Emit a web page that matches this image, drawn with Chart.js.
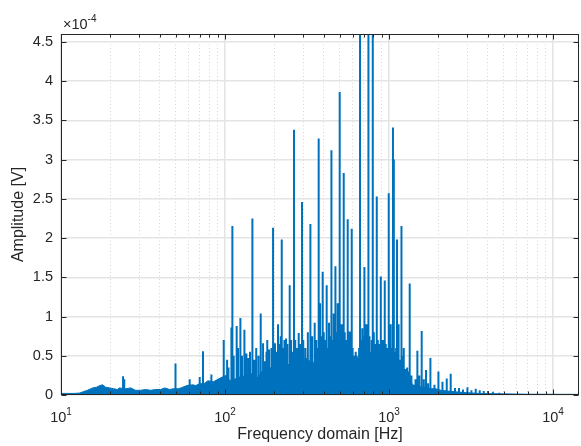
<!DOCTYPE html>
<html>
<head>
<meta charset="utf-8">
<script src="https://cdn.jsdelivr.net/npm/chart.js@4.4.1/dist/chart.umd.min.js"></script>
<style>
  html, body { margin: 0; padding: 0; background: #fff; }
</style>
</head>
<body>
<canvas id="chart" width="581" height="446"></canvas>
<script>
// amplitude spectrum, amplitudes in units of 1e-4 V (axis shows x10^-4)
const floorFreq = [10, 11, 12, 13, 13.6, 14.5, 15.6, 16.5, 17.2, 17.9, 18.7, 19.8, 20.9, 22.1, 22.6, 24.8, 26.6, 28.5,
  30.6, 32.8, 35.2, 37.8, 40.5, 42.9, 46, 48.6, 52.2, 55.3, 58.6, 63.6, 66.4, 69.1, 75.3, 78.6, 85.2, 90.3, 94.4,
  101.6, 107.4, 114, 120.6, 128, 136, 142, 152, 159, 167, 177, 190, 204, 216, 232, 241, 255, 275, 285, 307, 320,
  345, 366, 387, 409, 432, 458, 484, 510, 540, 565, 592, 614, 640, 684, 722, 765, 808, 854, 903, 955, 1010, 1067,
  1128, 1195, 1262, 1337, 1413, 1496, 1582, 1673, 1790, 1924, 2070, 2283, 2554, 2944, 3574, 4700, 7000, 14400];
const floorAmp = [0.02, 0.02, 0.02, 0.025, 0.04, 0.06, 0.09, 0.10, 0.12, 0.13, 0.10, 0.09, 0.08, 0.07, 0.09, 0.08, 0.09, 0.06,
  0.06, 0.07, 0.06, 0.07, 0.07, 0.09, 0.07, 0.08, 0.08, 0.10, 0.12, 0.13, 0.12, 0.14, 0.15, 0.18, 0.17, 0.20, 0.22,
  0.25, 0.18, 0.20, 0.22, 0.25, 0.20, 0.28, 0.25, 0.22, 0.30, 0.28, 0.35, 0.30, 0.38, 0.32, 0.38, 0.42, 0.38, 0.42, 0.42, 0.45,
  0.40, 0.50, 0.42, 0.55, 0.45, 0.50, 0.45, 0.50, 0.55, 0.45, 0.40, 0.35, 0.38, 0.50, 0.42, 0.55, 0.45, 0.50, 0.42, 0.50, 0.42, 0.45,
  0.38, 0.35, 0.25, 0.18, 0.12, 0.12, 0.10, 0.10, 0.08, 0.08, 0.06, 0.05, 0.04, 0.03, 0.02, 0.015, 0.01, 0.008];

const peakFreq = [
  23.9, 24.3, 49.9, 60.9, 70.1, 73.4, 82.6, 98.2, 103, 105,
  109.4, 110.9, 113, 117.8, 120, 124.1, 127, 131.3, 135, 138.9,
  142, 146.9, 151, 155, 160, 165.1, 170.6, 175.4, 179, 181,
  185.5, 191.9, 196.3, 201.8, 205, 210.5, 214, 218.6, 221.8, 226,
  230.3, 235.5, 240, 248, 253, 258, 263.4, 268, 272.4, 277,
  281.4, 288, 294.8, 300, 304.9, 309, 313.5, 320, 331.6, 340,
  352.2, 360, 366, 372.5, 380, 386, 394.1, 400, 405, 411,
  416.8, 423, 430.5, 438, 445.5, 452, 460, 471.2, 478, 486.6,
  493, 500.3, 508, 514.7, 522, 529.4, 537, 544.5, 552, 559.9,
  568, 575.9, 584, 592.4, 600, 610, 626.6, 636, 648, 657,
  665.7, 676, 687, 697, 708, 718, 728, 738, 749, 760,
  785, 796, 808, 819, 830, 842, 854, 866, 878, 891,
  904, 916, 930, 942, 955, 969, 982, 996, 1010, 1024,
  1040, 1057, 1070, 1090, 1105, 1119, 1135, 1150, 1170, 1191,
  1210, 1230, 1262, 1290, 1310, 1337, 1370, 1413, 1450, 1489,
  1530, 1582, 1630, 1681, 1730, 1788, 1892, 2001, 2118, 2249,
  2377, 2525, 2672, 2826, 3006, 3179, 3378, 3574, 3779, 4014,
  4300, 4700];
const peakAmp = [
  0.24, 0.20, 0.40, 0.20, 0.23, 0.556, 0.26, 0.70, 0.45, 0.35,
  0.86, 2.155, 0.50, 0.88, 0.60, 0.98, 0.50, 0.83, 0.53, 0.47,
  0.55, 2.25, 0.45, 0.60, 0.50, 1.04, 0.66, 0.43, 0.55, 0.70,
  0.58, 0.60, 2.13, 0.66, 0.55, 0.90, 0.65, 0.75, 1.98, 0.60,
  0.70, 0.72, 0.65, 1.40, 0.70, 0.55, 3.38, 0.70, 0.60, 0.60,
  0.79, 0.65, 2.46, 0.70, 0.47, 0.60, 0.47, 0.80, 2.18, 0.75,
  0.92, 0.70, 0.60, 3.27, 1.17, 0.75, 1.57, 0.80, 0.62, 0.70,
  1.40, 0.60, 0.92, 0.75, 3.12, 0.70, 1.04, 1.64, 0.80, 1.17,
  0.70, 3.86, 0.65, 0.90, 0.75, 2.83, 0.80, 0.70, 0.60, 2.24,
  0.70, 0.81, 0.65, 2.12, 0.60, 0.50, 0.55, 0.50, 0.47, 0.60,
  5.6, 0.70, 0.85, 0.75, 1.63, 0.70, 0.90, 0.80, 5.1, 0.75,
  0.70, 4.9, 0.80, 0.62, 0.65, 2.53, 0.70, 0.60, 0.65, 1.51,
  0.60, 0.70, 0.70, 1.46, 0.65, 0.50, 0.60, 2.57, 0.70, 0.90,
  0.60, 3.41, 3.0, 0.55, 0.60, 1.98, 0.50, 0.90, 0.45, 2.155,
  0.50, 0.60, 0.33, 0.35, 0.30, 1.42, 0.25, 0.13, 0.20, 0.565,
  0.25, 0.815, 0.20, 0.32, 0.15, 0.47, 0.13, 0.30, 0.17, 0.21,
  0.27, 0.09, 0.09, 0.07, 0.10, 0.06, 0.08, 0.06, 0.05, 0.05,
  0.04, 0.03];

const xTicks = [10, 20, 30, 40, 50, 60, 70, 80, 90, 100, 200, 300, 400, 500, 600, 700, 800, 900,
  1000, 2000, 3000, 4000, 5000, 6000, 7000, 8000, 9000, 10000];
const xMajor = [10, 100, 1000, 10000];
const yTicks = [0, 0.5, 1, 1.5, 2, 2.5, 3, 3.5, 4, 4.5];

const lineColor = "#0072BD";
const axisColor = "#262626";
const fontFamily = "'Liberation Sans', Arial, sans-serif";
const isMajor = v => xMajor.includes(v);

const floorData = floorFreq.map((f, i) => ({ x: f, y: floorAmp[i] }));
const stemData = peakFreq.flatMap((f, i) => [{ x: f, y: 0 }, { x: f, y: peakAmp[i] }, { x: f, y: 0 }]);

// box, inward ticks and power-of-ten labels like the original figure
const axesBox = {
  id: "axesBox",
  afterDraw(chart) {
    const { ctx, chartArea: a, scales: { x, y } } = chart;
    ctx.save();
    ctx.strokeStyle = axisColor;
    ctx.lineWidth = 1;
    const L = Math.round(a.left) + 0.5, R = Math.round(a.right) - 0.5;
    const T = Math.round(a.top) + 0.5, B = Math.round(a.bottom) - 0.5;
    ctx.strokeRect(L, T, R - L, B - T);
    ctx.beginPath();
    xTicks.forEach(v => {
      const px = Math.round(x.getPixelForValue(v)) + 0.5;
      const len = isMajor(v) ? 5 : 3;
      ctx.moveTo(px, B); ctx.lineTo(px, B - len);
      ctx.moveTo(px, T); ctx.lineTo(px, T + len);
    });
    yTicks.forEach(v => {
      const py = Math.round(y.getPixelForValue(v)) + 0.5;
      ctx.moveTo(L, py); ctx.lineTo(L + 5, py);
      ctx.moveTo(R, py); ctx.lineTo(R - 5, py);
    });
    ctx.stroke();

    ctx.fillStyle = axisColor;
    ctx.textBaseline = "alphabetic";
    ctx.textAlign = "left";
    xMajor.forEach(v => {
      const px = x.getPixelForValue(v);
      const exp = String(Math.round(Math.log10(v)));
      ctx.font = "14.5px " + fontFamily;
      const w1 = ctx.measureText("10").width;
      ctx.font = "10px " + fontFamily;
      const w2 = ctx.measureText(exp).width;
      const start = px - (w1 + w2) / 2;
      ctx.font = "14.5px " + fontFamily;
      ctx.fillText("10", start, 422);
      ctx.font = "10px " + fontFamily;
      ctx.fillText(exp, start + w1, 415);
    });

    // exponent label of the amplitude axis
    ctx.font = "14.5px " + fontFamily;
    ctx.fillText("\u00d710", 63, 29);
    const wm = ctx.measureText("\u00d710").width;
    ctx.font = "10px " + fontFamily;
    ctx.fillText("-4", 63 + wm, 22);
    ctx.restore();
  }
};

new Chart(document.getElementById("chart").getContext("2d"), {
  type: "line",
  data: {
    datasets: [
      {
        data: floorData,
        borderColor: lineColor,
        backgroundColor: lineColor,
        borderWidth: 1,
        pointRadius: 0,
        fill: "origin",
        tension: 0
      },
      {
        data: stemData,
        borderColor: lineColor,
        borderWidth: 2,
        pointRadius: 0,
        fill: false,
        tension: 0
      }
    ]
  },
  options: {
    responsive: false,
    animation: false,
    devicePixelRatio: 1,
    layout: { padding: { top: 34, right: 2, left: 0, bottom: 0 } },
    plugins: {
      legend: { display: false },
      tooltip: { enabled: false }
    },
    scales: {
      x: {
        type: "logarithmic",
        min: 10,
        max: 14400,
        afterBuildTicks: s => { s.ticks = xTicks.map(v => ({ value: v, major: isMajor(v) })); },
        afterFit: s => { s.height = 51; },
        ticks: { display: false },
        grid: {
          drawTicks: false,
          color: c => (c.tick && isMajor(c.tick.value)) ? "#e4e4e4" : "#d4d4d4",
          lineWidth: c => (c.tick && isMajor(c.tick.value)) ? 1.5 : 1
        },
        border: {
          display: false,
          dash: c => (c.tick && isMajor(c.tick.value)) ? [] : [1, 2.5]
        },
        title: {
          display: true,
          text: "Frequency domain [Hz]",
          color: axisColor,
          font: { family: fontFamily, size: 16 },
          padding: { top: 0, bottom: 2 }
        }
      },
      y: {
        min: 0,
        max: 4.6,
        afterBuildTicks: s => { s.ticks = yTicks.map(v => ({ value: v })); },
        afterFit: s => { s.width = 61; },
        ticks: {
          color: axisColor,
          font: { family: fontFamily, size: 14.5 },
          padding: 8,
          autoSkip: false,
          callback: v => String(v)
        },
        grid: { drawTicks: false, color: "#e4e4e4", lineWidth: 1.5 },
        border: { display: false },
        title: {
          display: true,
          text: "Amplitude [V]",
          color: axisColor,
          font: { family: fontFamily, size: 16 },
          padding: { top: 9, bottom: 0 }
        }
      }
    }
  },
  plugins: [axesBox]
});
</script>
</body>
</html>
